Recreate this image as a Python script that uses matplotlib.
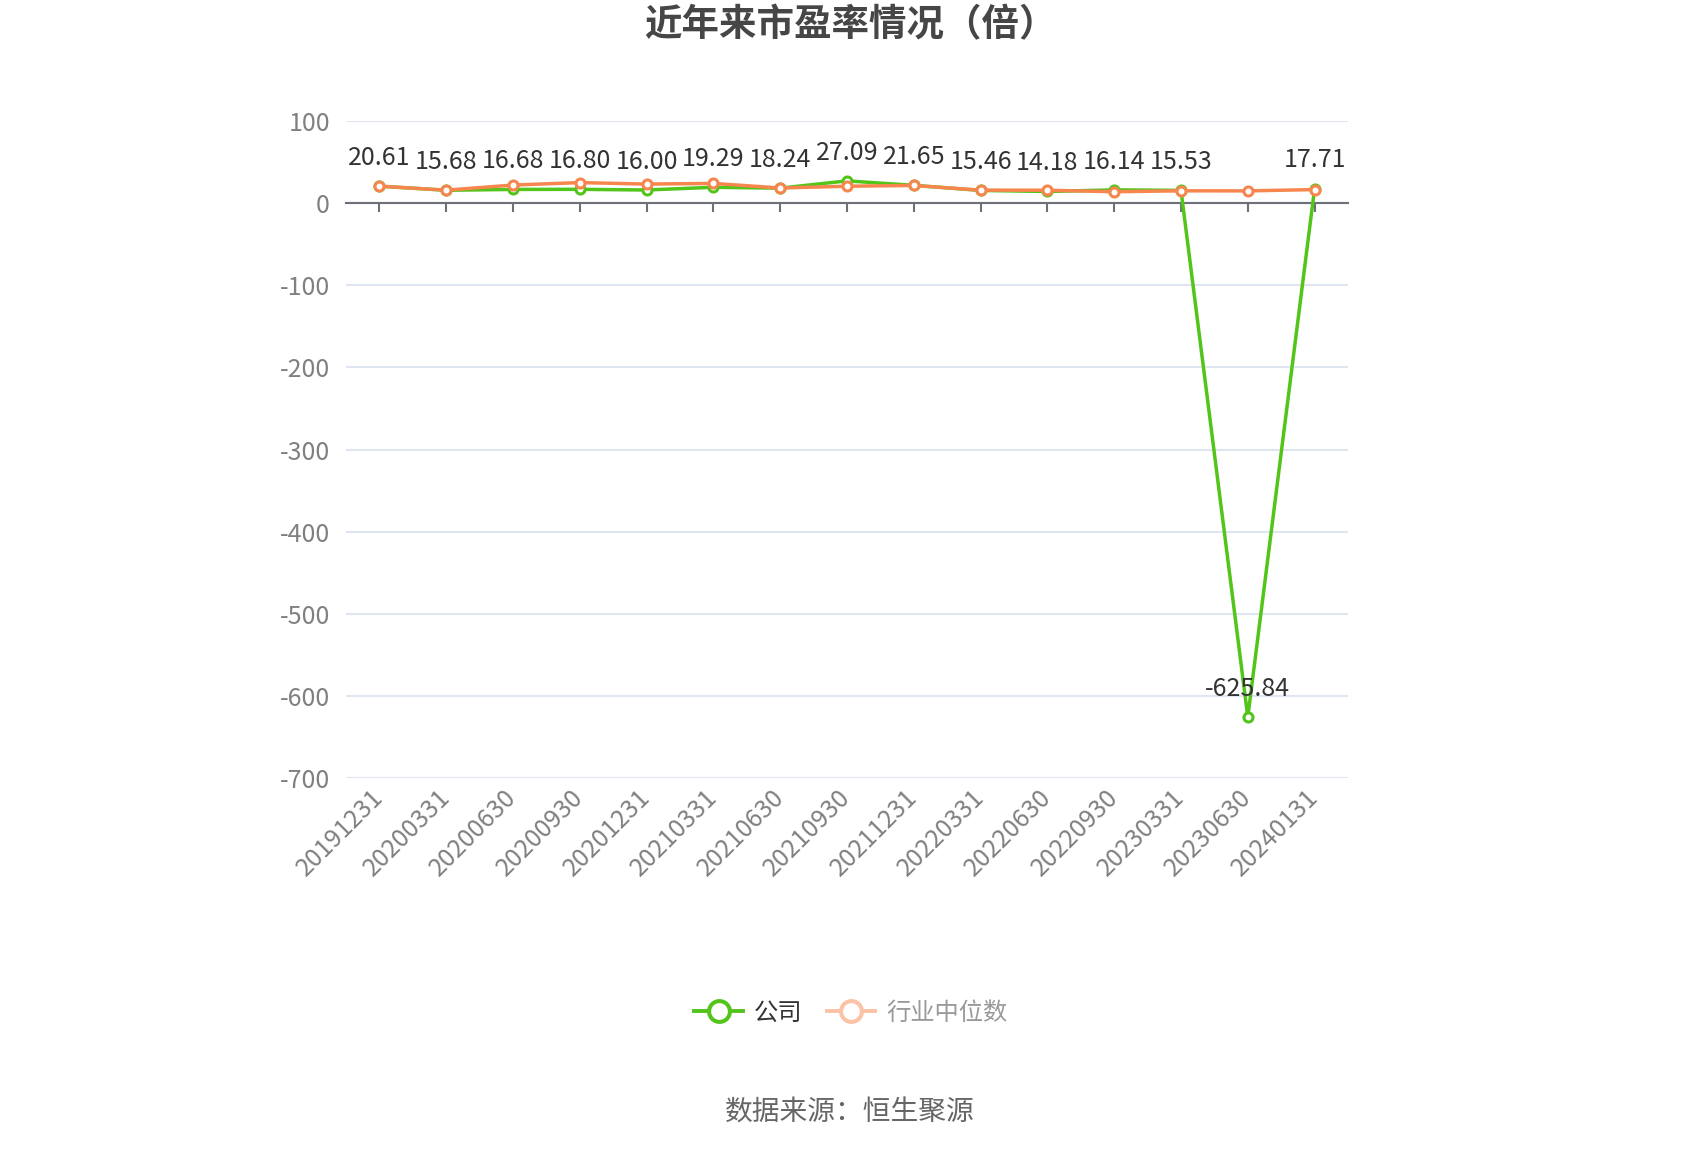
import matplotlib
matplotlib.use('Agg')
import matplotlib.pyplot as plt
from matplotlib.lines import Line2D
import numpy as np

plt.rcParams['font.family'] = ['Noto Sans CJK SC', 'DejaVu Sans']

dates = ['20191231', '20200331', '20200630', '20200930', '20201231',
         '20210331', '20210630', '20210930', '20211231', '20220331',
         '20220630', '20220930', '20230331', '20230630', '20240131']
company = [20.61, 15.68, 16.68, 16.80, 16.00, 19.29, 18.24, 27.09,
           21.65, 15.46, 14.18, 16.14, 15.53, -625.84, 17.71]
industry = [20.7, 15.8, 22.0, 25.0, 23.2, 24.0, 18.4, 20.6,
            21.5, 15.8, 15.7, 13.9, 15.0, 14.9, 16.5]
yticks = [100, 0, -100, -200, -300, -400, -500, -600, -700]

green = '#52c41a'
orange = '#f7864e'
axis_gray = '#6e7079'
label_gray = '#808080'

fig = plt.figure(figsize=(17, 11.5), dpi=100)
ax = fig.add_axes([346 / 1700, 1 - 778 / 1150, 1002 / 1700, (778 - 121) / 1150])

x = np.arange(len(dates))
ax.plot(x, company, color=green, lw=2.5, marker='o', ms=6.5, mew=2.2,
        mfc='white', mec=green, zorder=3)
ax.plot(x, industry, color=orange, lw=2.5, marker='o', ms=6.5, mew=2.2,
        mfc='white', mec=orange, zorder=4)

for xi, v in zip(x, company):
    ax.annotate(f'{v:.2f}', (xi, v), xytext=(0, 11), textcoords='offset points',
                ha='center', va='bottom', fontsize=18, color='#333333', zorder=5)

ax.set_xlim(-0.5, len(dates) - 0.5)
ax.set_ylim(-700, 100)
ax.set_yticks(yticks)
ax.set_yticklabels([str(t) for t in yticks])
ax.set_xticks(x)
ax.set_xticklabels([])

ax.grid(axis='y', color='#e0e6f1', lw=1.5)
ax.set_axisbelow(True)
for s in ['top', 'right', 'left']:
    ax.spines[s].set_visible(False)
ax.spines['bottom'].set_position(('data', 0))
ax.spines['bottom'].set_color(axis_gray)
ax.spines['bottom'].set_linewidth(1.5)
ax.tick_params(axis='x', direction='out', length=6.5, width=1.5, color=axis_gray)
ax.tick_params(axis='y', length=0, labelsize=18, labelcolor=label_gray, pad=11.5)

# category labels hang under the plot bottom, not under the zero line
trans = ax.get_xaxis_transform()
for xi, d in zip(x, dates):
    ax.text(xi, -16 / 657, d, transform=trans, rotation=45, ha='right',
            va='center', rotation_mode='anchor', fontsize=18, color=label_gray)

fig.text(0.5, 1 - 25 / 1150, '近年来市盈率情况（倍）', ha='center', va='center',
         fontsize=27, fontweight='bold', color='#464646')

handles = [
    Line2D([0], [0], color=green, lw=2.8, marker='o', ms=15, mew=2.9,
           mfc='white', mec=green),
    Line2D([0], [0], color='#fbc2a6', lw=2.8, marker='o', ms=15, mew=2.9,
           mfc='white', mec='#fbc2a6'),
]
leg = fig.legend(handles, ['公司', '行业中位数'], loc='center',
                 bbox_to_anchor=(851 / 1700, 1 - 1013 / 1150), ncol=2,
                 frameon=False, fontsize=17.5, handlelength=2.0,
                 handletextpad=0.45, columnspacing=1.0)
leg.get_texts()[0].set_color('#333333')
leg.get_texts()[1].set_color('#999999')

fig.text(0.5, 1 - 1113 / 1150, '数据来源：恒生聚源', ha='center', va='center',
         fontsize=20, color='#666666')

fig.savefig('out.png', dpi=100, facecolor='white')
